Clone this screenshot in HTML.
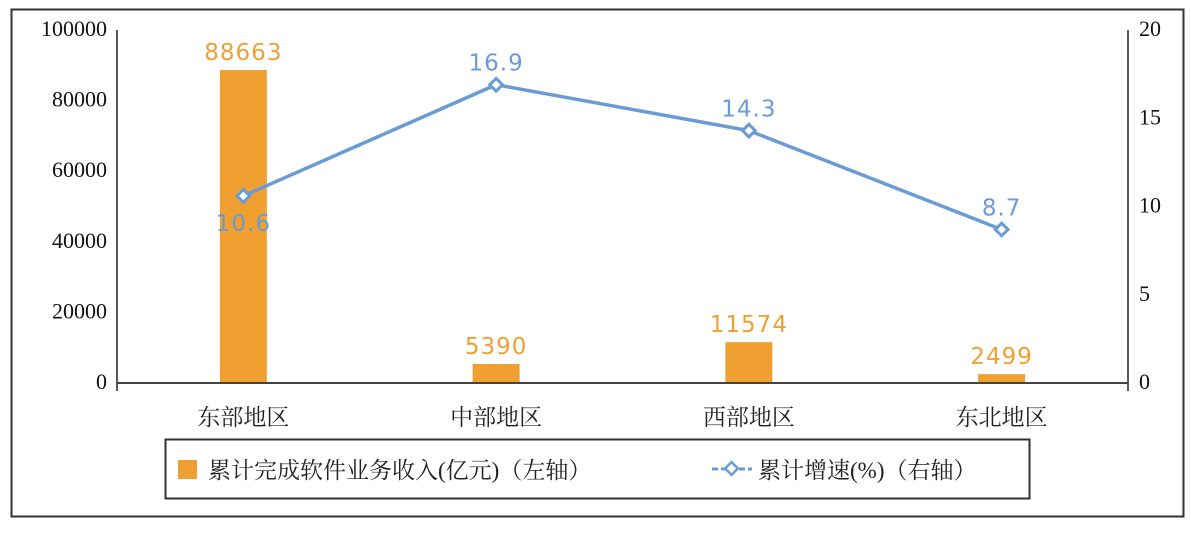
<!DOCTYPE html>
<html><head><meta charset="utf-8"><style>
body{margin:0;background:#fff;}
svg{display:block;}
.ax{font-family:"Liberation Serif",serif;font-size:22px;fill:#111;}
.cat{font-family:"Liberation Serif","Noto Serif CJK SC",serif;font-size:23px;fill:#222;}
.dl{font-family:"DejaVu Sans","Liberation Sans",sans-serif;font-size:23px;letter-spacing:1px;}
.lg{font-family:"Liberation Serif","Noto Serif CJK SC",serif;font-size:23px;fill:#222;}
</style></head><body>
<svg id="chart" width="1191" height="535">
<rect x="11.5" y="9.5" width="1172" height="507" fill="#fff" stroke="#333" stroke-width="2"/>
<g id="plot"></g>
<g>
<rect x="165.5" y="439.5" width="864" height="59" fill="#fff" stroke="#333" stroke-width="2"/>
<rect x="178" y="460" width="19" height="19" fill="#f0a030"/>
<text x="208" y="478" class="lg">累计完成软件业务收入(亿元)（左轴）</text>
<line x1="712" y1="469" x2="752" y2="469" stroke="#6a9bd5" stroke-width="3" stroke-dasharray="6,3"/>
<rect x="727" y="464" width="9" height="9" fill="#fff" stroke="#6a9bd5" stroke-width="2.5" transform="rotate(45 731.5 468.5)"/>
<text x="758" y="478" class="lg">累计增速(%)（右轴）</text>
</g>
</svg>
<script>
const categories=["东部地区","中部地区","西部地区","东北地区"];
const revenue=[88663,5390,11574,2499];
const growth=[10.6,16.9,14.3,8.7];
const leftTicks=[0,20000,40000,60000,80000,100000];
const rightTicks=[0,5,10,15,20];
const NS="http://www.w3.org/2000/svg";
const g=document.getElementById('plot');
const X0=117,X1=1128,Y0=383,Y1=30;
const bw=(X1-X0)/categories.length;
const xc=i=>X0+bw*(i+0.5);
const yl=v=>Y0-(v/100000)*(Y0-Y1);
const yr=v=>Y0-(v/20)*(Y0-Y1);
function mk(t,a){const e=document.createElementNS(NS,t);for(const k in a)e.setAttribute(k,a[k]);g.appendChild(e);return e;}
leftTicks.forEach(v=>{const t=mk('text',{x:107,y:yl(v)+6,'text-anchor':'end',class:'ax'});t.textContent=v;

});
rightTicks.forEach(v=>{const t=mk('text',{x:1139,y:yr(v)+6,class:'ax'});t.textContent=v;

});
revenue.forEach((v,i)=>{const r=mk('rect',{x:xc(i)-23.5,y:yl(v),width:47,height:Y0-yl(v),fill:'#f0a030'});


const t=mk('text',{x:xc(i),y:yl(v)-10,'text-anchor':'middle',class:'dl',fill:'#f0a030'});t.textContent=v;


const c=mk('text',{x:xc(i),y:425,'text-anchor':'middle',class:'cat'});c.textContent=categories[i];

});
const la=mk('line',{x1:X0,y1:Y1,x2:X0,y2:Y0+8,stroke:'#222','stroke-width':1.5});


const ra=mk('line',{x1:X1,y1:Y1,x2:X1,y2:Y0+8,stroke:'#222','stroke-width':1.5});


const xa=mk('line',{x1:X0,y1:Y0,x2:X1,y2:Y0,stroke:'#444','stroke-width':2});


const pl=mk('polyline',{points:growth.map((v,i)=>xc(i)+','+yr(v)).join(' '),fill:'none',stroke:'#6a9bd5','stroke-width':3.5});


growth.forEach((v,i)=>{const x=xc(i),y=yr(v);
const m=mk('rect',{x:x-4.5,y:y-4.5,width:9,height:9,fill:'#fff',stroke:'#6a9bd5','stroke-width':3,transform:`rotate(45 ${x} ${y})`});


const t=mk('text',{x:x,y:i==0?y+35:y-14,'text-anchor':'middle',class:'dl',fill:'#6a9bd5'});t.textContent=v;

});
</script>
</body></html>
